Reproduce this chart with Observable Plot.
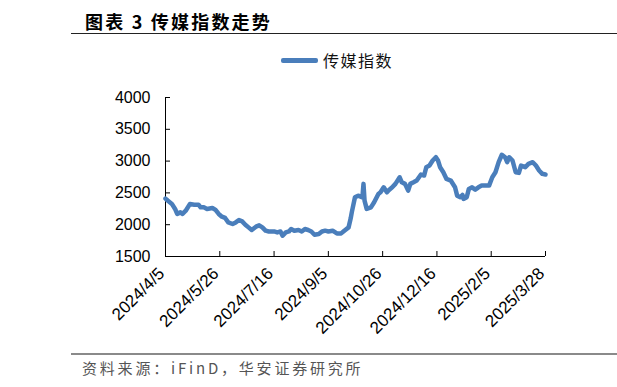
<!DOCTYPE html>
<html>
<head>
<meta charset="utf-8">
<script src="https://cdn.jsdelivr.net/npm/d3@7"></script>
<script src="https://cdn.jsdelivr.net/npm/@observablehq/plot@0.6"></script>
<style>
  html, body { margin: 0; padding: 0; background: #fff; }
  #wrap { position: relative; width: 617px; height: 387px; overflow: hidden; font-family: "Noto Sans CJK SC", sans-serif; }
  #chart { position: absolute; left: 0; top: 0; }
  .abs { position: absolute; white-space: nowrap; }
  #title { left: 85px; top: 11px; font-size: 18px; line-height: 20px; font-weight: bold; color: #000; letter-spacing: 2.2px; }
  #rule { left: 71px; top: 33px; width: 546px; height: 1px; background: #222; }
  #legLine { left: 281px; top: 58px; width: 37px; height: 4.5px; border-radius: 2px; background: #4a7ebb; }
  #legText { left: 323px; top: 51px; font-size: 16px; line-height: 18px; color: #111; letter-spacing: 1.5px; }
  #footRule { left: 71px; top: 353px; width: 546px; height: 1.5px; background: #8a8a8a; }
  #foot { left: 82px; top: 359px; font-size: 15px; line-height: 18px; color: #555; letter-spacing: 2.8px; }
</style>
</head>
<body>
<div id="wrap">
  <div id="chart"></div>
  <div class="abs" id="title">图表 3 传媒指数走势</div>
  <div class="abs" id="rule"></div>
  <div class="abs" id="legLine"></div>
  <div class="abs" id="legText">传媒指数</div>
  <div class="abs" id="footRule"></div>
  <div class="abs" id="foot">资料来源：iFinD，华安证券研究所</div>
</div>
<script>
const seriesName = "传媒指数";

const dates = [
  "2024-04-05","2024-04-07","2024-04-11","2024-04-14","2024-04-16","2024-04-19","2024-04-21","2024-04-24","2024-04-28",
  "2024-05-02","2024-05-06","2024-05-08","2024-05-11","2024-05-14","2024-05-19","2024-05-22","2024-05-25","2024-05-28","2024-05-31",
  "2024-06-03","2024-06-07","2024-06-10","2024-06-13","2024-06-16","2024-06-19","2024-06-22","2024-06-25","2024-06-29",
  "2024-07-02","2024-07-05","2024-07-08","2024-07-11","2024-07-16","2024-07-19","2024-07-22","2024-07-24","2024-07-27","2024-07-30",
  "2024-08-01","2024-08-04","2024-08-08","2024-08-11","2024-08-14","2024-08-17","2024-08-20","2024-08-23","2024-08-27","2024-08-30",
  "2024-09-02","2024-09-05","2024-09-09","2024-09-13","2024-09-17","2024-09-20","2024-09-24","2024-09-26","2024-09-27","2024-09-30",
  "2024-10-03","2024-10-07","2024-10-08","2024-10-09","2024-10-11","2024-10-15","2024-10-18","2024-10-22","2024-10-24","2024-10-27","2024-10-30",
  "2024-11-01","2024-11-04","2024-11-07","2024-11-11","2024-11-13","2024-11-16","2024-11-19","2024-11-21","2024-11-24","2024-11-27",
  "2024-12-01","2024-12-04","2024-12-06","2024-12-09","2024-12-12","2024-12-15","2024-12-17","2024-12-19","2024-12-22","2024-12-25","2024-12-29",
  "2025-01-02","2025-01-04","2025-01-07","2025-01-09","2025-01-10","2025-01-13","2025-01-15","2025-01-18","2025-01-21","2025-01-24","2025-01-27",
  "2025-02-03","2025-02-06","2025-02-09","2025-02-12","2025-02-15","2025-02-18","2025-02-20","2025-02-22","2025-02-25","2025-02-28",
  "2025-03-03","2025-03-05","2025-03-09","2025-03-12","2025-03-16","2025-03-19","2025-03-22","2025-03-25","2025-03-28"
];

const values = [
  2410,2380,2327,2248,2169,2194,2170,2220,2327,
  2315,2315,2273,2273,2248,2263,2232,2169,2126,2106,
  2036,2011,2036,2074,2052,2000,1958,1917,1969,
  1990,1958,1906,1894,1894,1879,1894,1827,1879,1894,
  1932,1906,1917,1894,1932,1917,1894,1842,1853,1894,
  1906,1894,1906,1863,1863,1906,1958,2100,2194,2431,
  2457,2431,2642,2379,2248,2273,2352,2484,2510,2588,2510,
  2547,2588,2642,2746,2667,2642,2536,2642,2667,2694,
  2789,2773,2904,2930,3009,3061,3009,2904,2825,2720,2694,
  2588,2457,2431,2468,2405,2431,2563,2588,2552,2588,2615,
  2615,2746,2825,2983,3100,3061,2983,3061,3009,2825,
  2815,2930,2904,2957,2983,2930,2852,2800,2790
];

const xTickDates = ["2024-04-05","2024-05-26","2024-07-16","2024-09-05","2024-10-26","2024-12-16","2025-02-05","2025-03-28"];
const xTickLabels = ["2024/4/5","2024/5/26","2024/7/16","2024/9/5","2024/10/26","2024/12/16","2025/2/5","2025/3/28"];
const yTicks = [1500, 2000, 2500, 3000, 3500, 4000];

const data = dates.map((d, i) => ({date: new Date(d), value: values[i]}));
const xTicks = xTickDates.map((d, i) => ({date: new Date(d), label: xTickLabels[i]}));

const W = 617, H = 387, mL = 165, mR = 72, mT = 97, mB = 131;
const frameW = W - mL - mR, frameH = H - mT - mB;

const chart = Plot.plot({
  width: W,
  height: H,
  marginLeft: mL,
  marginRight: mR,
  marginTop: mT,
  marginBottom: mB,
  style: {fontFamily: "'Liberation Sans', Arial, sans-serif", background: "transparent", overflow: "visible"},
  x: {type: "utc", domain: [new Date(xTickDates[0]), new Date(xTickDates[xTickDates.length - 1])], axis: null},
  y: {domain: [yTicks[0], yTicks[yTicks.length - 1]], axis: null},
  marks: [
    Plot.ruleX([new Date(xTickDates[0])], {y1: yTicks[0], y2: yTicks[yTicks.length - 1], stroke: "#000", strokeWidth: 1}),
    Plot.tickY(yTicks, {y: d => d, stroke: "#000", strokeWidth: 1, insetRight: frameW - 5}),
    Plot.text(yTicks, {y: d => d, frameAnchor: "left", text: d => String(d), textAnchor: "end", dx: -15, fontSize: 16, fill: "#000"}),
    Plot.ruleY([yTicks[0]], {stroke: "#000", strokeWidth: 1}),
    Plot.tickX(xTicks, {x: "date", stroke: "#000", strokeWidth: 1, insetTop: frameH - 5}),
    Plot.text(xTicks, {x: "date", frameAnchor: "bottom", text: "label", rotate: -45, textAnchor: "end", dy: 18, fontSize: 17, fill: "#000"}),
    Plot.line(data, {x: "date", y: "value", stroke: "#4a7ebb", strokeWidth: 4.5, strokeLinejoin: "round", strokeLinecap: "round"})
  ]
});
document.getElementById("chart").appendChild(chart);
</script>
</body>
</html>
